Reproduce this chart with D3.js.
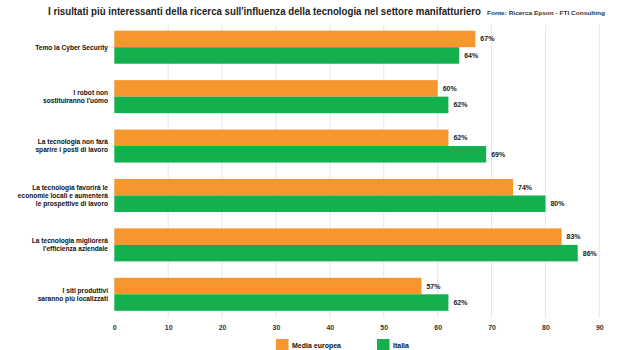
<!DOCTYPE html>
<html>
<head>
<meta charset="utf-8">
<script src="https://cdn.jsdelivr.net/npm/d3@7"></script>
<style>
  body { margin: 0; background: #fff; }
  svg { display: block; font-family: "Liberation Sans", Arial, sans-serif; }
</style>
</head>
<body>
<div id="chart"></div>
<script>
// data
const categories = [
  ["Temo la Cyber Security"],
  ["I robot non", "sostituiranno l'uomo"],
  ["La tecnologia non farà", "sparire i posti di lavoro"],
  ["La tecnologia favorirà le", "economie locali e aumenterà", "le prospettive di lavoro"],
  ["La tecnologia migliorerà", "l'efficienza aziendale"],
  ["I siti produttivi", "saranno più localizzati"]
];
const mediaEuropea = [67, 60, 62, 74, 83, 57];
const italia = [64, 62, 69, 80, 86, 62];
const seriesNames = ["Media europea", "Italia"];
const xTicks = [0, 10, 20, 30, 40, 50, 60, 70, 80, 90];

const width = 633, height = 350;
const margin = {top: 22.5, right: 34, bottom: 31, left: 114.3};
const colors = ["#f7962c", "#13b04d"];

const svg = d3.select("#chart").append("svg")
  .attr("width", width)
  .attr("height", height);

// title
svg.append("text")
  .attr("x", 48).attr("y", 15)
  .attr("font-size", 10).attr("font-weight", "bold").attr("fill", "#222")
  .attr("textLength", 433).attr("lengthAdjust", "spacingAndGlyphs")
  .text("I risultati più interessanti della ricerca sull'influenza della tecnologia nel settore manifatturiero");
svg.append("text")
  .attr("x", 487).attr("y", 14.5)
  .attr("font-size", 6).attr("font-weight", "bold").attr("fill", "#333")
  .attr("textLength", 118).attr("lengthAdjust", "spacingAndGlyphs")
  .text("Fonte: Ricerca Epson - FTI Consulting");

const x = d3.scaleLinear()
  .domain([0, 90])
  .range([margin.left, margin.left + 5.389 * 90]);

const y = d3.scaleBand()
  .domain(d3.range(categories.length))
  .range([margin.top, height - margin.bottom])
  .paddingInner(0.332)
  .paddingOuter(0.166);

const sub = d3.scaleBand()
  .domain([0, 1])
  .range([0, y.bandwidth()]);

// grid
svg.append("g")
  .selectAll("line")
  .data(xTicks.slice(1))
  .join("line")
  .attr("x1", d => x(d)).attr("x2", d => x(d))
  .attr("y1", 25).attr("y2", 318)
  .attr("stroke", "#e6e6e6")
  .attr("stroke-width", 1);

// axis labels
const xAxis = d3.axisBottom(x).tickValues(xTicks).tickSize(0).tickPadding(0);
const xAxisG = svg.append("g")
  .attr("transform", "translate(0,325)")
  .call(xAxis);
xAxisG.select(".domain").remove();
xAxisG.selectAll("text")
  .attr("font-family", "Liberation Sans, Arial, sans-serif")
  .attr("font-size", 7).attr("font-weight", "bold").attr("fill", "#333");

// category labels
const labelG = svg.append("g");
categories.forEach((lines, i) => {
  const cy = y(i) + y.bandwidth() / 2;
  const lh = 8;
  const t = labelG.append("text")
    .attr("x", 108)
    .attr("text-anchor", "end")
    .attr("font-size", 6.6).attr("font-weight", "bold").attr("fill", "#111");
  lines.forEach((ln, j) => {
    t.append("tspan")
      .attr("x", 108)
      .attr("y", cy + (j - (lines.length - 1) / 2) * lh + 2.4)
      .text(ln);
  });
});

// bars
const series = [mediaEuropea, italia];
series.forEach((vals, s) => {
  svg.append("g")
    .selectAll("rect")
    .data(vals)
    .join("rect")
    .attr("x", x(0))
    .attr("y", (d, i) => y(i) + sub(s))
    .attr("width", d => x(d) - x(0))
    .attr("height", sub.bandwidth())
    .attr("fill", colors[s]);

  svg.append("g")
    .selectAll("text")
    .data(vals)
    .join("text")
    .attr("x", d => x(d) + 5)
    .attr("y", (d, i) => y(i) + sub(s) + sub.bandwidth() / 2 + 2.5)
    .attr("font-size", 7).attr("font-weight", "bold").attr("fill", "#222")
    .text(d => d + "%");
});

// legend
const legendX = [276, 377];
seriesNames.forEach((name, s) => {
  svg.append("rect")
    .attr("x", legendX[s]).attr("y", 339)
    .attr("width", 12.5).attr("height", 12)
    .attr("fill", colors[s]);
  svg.append("text")
    .attr("x", legendX[s] + 16).attr("y", 347.5)
    .attr("font-size", 7).attr("font-weight", "bold").attr("fill", "#111")
    .text(name);
});
</script>
</body>
</html>
